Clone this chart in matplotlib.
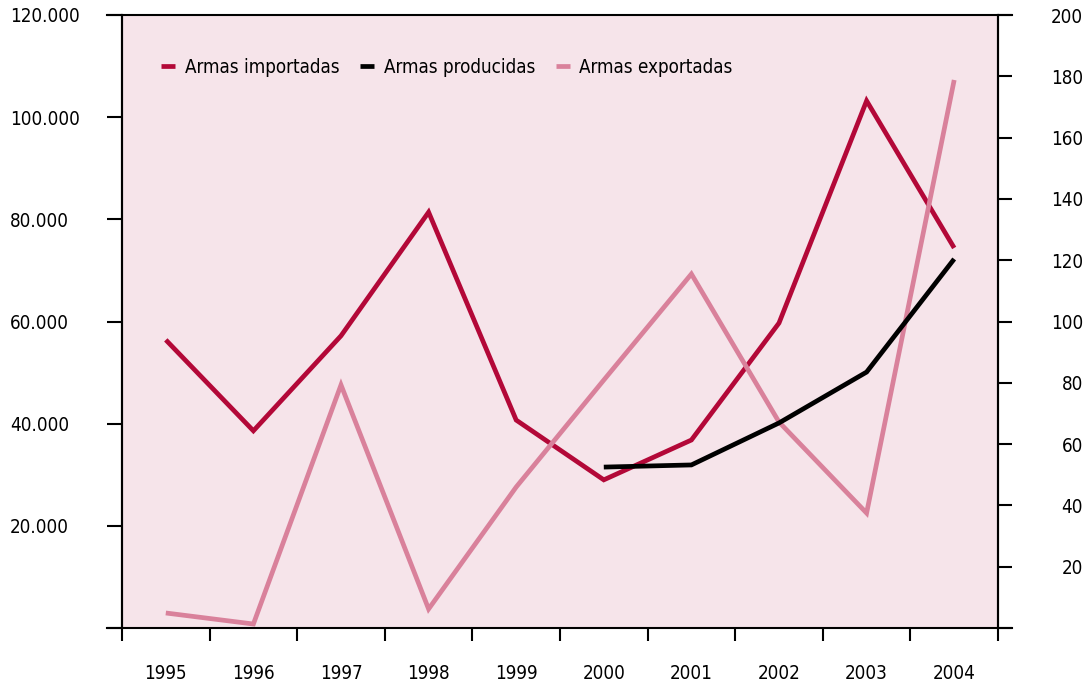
import matplotlib
matplotlib.use("Agg")
import matplotlib.pyplot as plt
import numpy as np

plt.rcParams['font.family'] = ['DejaVu Sans']
plt.rcParams['font.stretch'] = 'condensed'

years = ['1995', '1996', '1997', '1998', '1999', '2000', '2001', '2002', '2003', '2004']
importadas = [56400, 38600, 57200, 81400, 40700, 29000, 36800, 59700, 103200, 74400]
producidas_years = ['2000', '2001', '2002', '2003', '2004']
producidas = [52.5, 53.2, 66.9, 83.5, 120.4]
exportadas = [4.9, 1.3, 79.3, 6.2, 46.0, 80.9, 115.5, 67.2, 37.5, 178.8]

left_ticks = [0, 20000, 40000, 60000, 80000, 100000, 120000]
left_labels = ['', '20.000', '40.000', '60.000', '80.000', '100.000', '120.000']
right_ticks = [0, 20, 40, 60, 80, 100, 120, 140, 160, 180, 200]
right_labels = ['', '20', '40', '60', '80', '100', '120', '140', '160', '180', '200']

c_imp = '#b30838'
c_prod = '#000000'
c_exp = '#d9819b'
bg = '#f6e4ea'

W, H = 1086, 685
fig = plt.figure(figsize=(W / 100, H / 100), dpi=100)
ax = fig.add_axes([122 / W, 57 / H, 876 / W, 613 / H])
ax.set_facecolor(bg)
ax2 = ax.twinx()
ax2.patch.set_visible(False)

x = np.arange(len(years))
xp = np.array([years.index(y) for y in producidas_years])

lw = 3.4
kw = dict(lw=lw, solid_joinstyle='miter', solid_capstyle='butt')
l1, = ax.plot(x, importadas, color=c_imp, label='Armas importadas', **kw)
l2, = ax2.plot(xp, producidas, color=c_prod, label='Armas producidas', zorder=3, **kw)
l3, = ax2.plot(x, exportadas, color=c_exp, label='Armas exportadas', zorder=2, **kw)

ax.set_xlim(-0.5, len(years) - 0.5)
ax.set_ylim(0, 120000)
ax2.set_ylim(0, 200)

fs = 13.5
ax.set_xticks(np.arange(-0.5, len(years), 1.0))
ax.set_xticklabels([])
ax.set_xticks(x, minor=True)
ax.set_xticklabels(years, minor=True, fontsize=fs)
ax.tick_params(axis='x', which='major', direction='out', length=9.5, width=1.5)
ax.tick_params(axis='x', which='minor', length=0, pad=26)

ax.set_yticks(left_ticks)
ax.set_yticklabels(left_labels, fontsize=fs)
ax.tick_params(axis='y', direction='out', length=10.8, width=1.5, pad=70)
for t in ax.get_yticklabels():
    t.set_horizontalalignment('left')

ax2.set_yticks(right_ticks)
ax2.set_yticklabels(right_labels, fontsize=fs)
ax2.tick_params(axis='y', direction='out', length=10.3, width=1.5, pad=51)
for t in ax2.get_yticklabels():
    t.set_horizontalalignment('right')

for a in (ax, ax2):
    for s in a.spines.values():
        s.set_linewidth(1.5)
        s.set_color('black')

ax.spines['top'].set_bounds(-0.5 - 0.17, len(years) - 0.5 + 0.16)
ax.spines['bottom'].set_bounds(-0.5 - 0.17, len(years) - 0.5 + 0.16)
ax2.spines['top'].set_visible(False)
ax2.spines['bottom'].set_visible(False)

leg = ax.legend(handles=[l1, l2, l3], loc='upper left', bbox_to_anchor=(0.045, 0.93),
                ncol=3, frameon=False, fontsize=fs, handlelength=0.75,
                handletextpad=0.5, columnspacing=1.1, borderaxespad=0, borderpad=0)

fig.savefig('out.png', dpi=100)
